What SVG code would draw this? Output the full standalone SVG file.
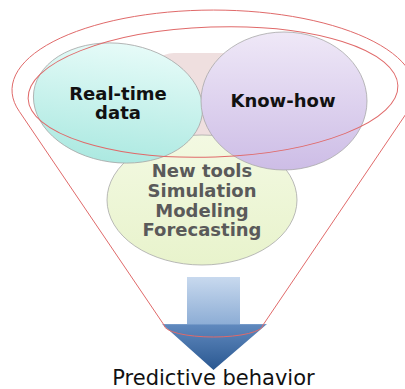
<svg xmlns="http://www.w3.org/2000/svg" width="405" height="389" viewBox="0 0 405 389">
<defs>
<linearGradient id="gTeal" x1="0" y1="0" x2="0" y2="1"><stop offset="0" stop-color="#e6fbf8"/><stop offset="1" stop-color="#ace9e1"/></linearGradient>
<linearGradient id="gPurple" x1="0" y1="0" x2="0" y2="1"><stop offset="0" stop-color="#efe8f7"/><stop offset="1" stop-color="#cdbde6"/></linearGradient>
<linearGradient id="gGreen" x1="0" y1="0" x2="0" y2="1"><stop offset="0" stop-color="#f3f9e2"/><stop offset="1" stop-color="#e8f3cc"/></linearGradient>
<linearGradient id="gArrow" gradientUnits="userSpaceOnUse" x1="0" y1="277" x2="0" y2="370"><stop offset="0" stop-color="#c8d9ee"/><stop offset="0.5" stop-color="#8eaed6"/><stop offset="0.52" stop-color="#5f88bd"/><stop offset="1" stop-color="#2a5891"/></linearGradient>
<style>
.bub{stroke:#a8a8a8;stroke-width:0.8}
.funnel{fill:none;stroke:#e06a6a;stroke-width:1}
.lbl{font-family:"DejaVu Sans",Verdana,sans-serif;font-weight:bold;font-size:18px;text-anchor:middle;fill:#111}
.lblg{font-family:"DejaVu Sans",Verdana,sans-serif;font-weight:bold;font-size:18px;text-anchor:middle;fill:#5a5a5a}
.out{font-family:"DejaVu Sans",Verdana,sans-serif;font-size:21px;text-anchor:middle;fill:#111}
</style>
</defs>
<rect width="405" height="389" fill="#ffffff"/>
<g id="pink"><rect x="150" y="53" width="125" height="86" rx="24" fill="#efdfdf"/></g>
<g id="tools">
<ellipse class="bub" cx="202" cy="200" rx="95" ry="65" fill="url(#gGreen)"/>
<text class="lblg" x="202" y="177">New tools</text>
<text class="lblg" x="202" y="197">Simulation</text>
<text class="lblg" x="202" y="217">Modeling</text>
<text class="lblg" x="202" y="236">Forecasting</text>
</g>
<g id="realtime">
<ellipse class="bub" cx="0" cy="0" rx="85" ry="59.5" transform="translate(118 103) rotate(8)" fill="url(#gTeal)"/>
<text class="lbl" x="118" y="100">Real-time</text>
<text class="lbl" x="118" y="119">data</text>
</g>
<g id="knowhow">
<ellipse class="bub" cx="284" cy="101" rx="83" ry="69" fill="url(#gPurple)"/>
<text class="lbl" x="283" y="107">Know-how</text>
</g>
<g id="arrow">
<path d="M187,277 H240 V324 H267 L213.5,370 L162,324 H187 Z" fill="url(#gArrow)"/>
</g>
<g id="connectors">
<path class="funnel" d="M19.3,111.4 A201.5,80 0 1 1 407.7,111.4 L263,325 A49.5,12 0 0 1 164,325 Z"/>
<ellipse class="funnel" cx="0" cy="0" rx="185" ry="65" transform="translate(213 92) rotate(-2)"/>
</g>
<g id="output">
<text class="out" x="213.5" y="385">Predictive behavior</text>
</g>
</svg>
